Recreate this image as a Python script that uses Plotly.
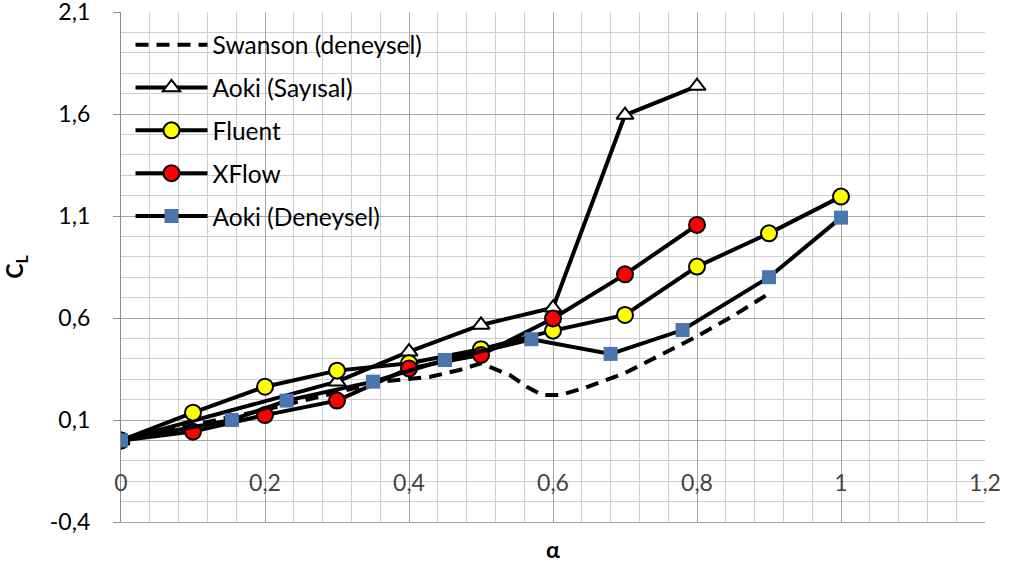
import plotly.graph_objects as go

# ---- data ----
swanson_x = [0, 0.1, 0.2, 0.3, 0.36, 0.43, 0.47, 0.5, 0.54, 0.565, 0.585, 0.61, 0.65, 0.7, 0.75, 0.8, 0.85, 0.9]
swanson_y = [0, 0.075, 0.15, 0.235, 0.288, 0.312, 0.345, 0.378, 0.32, 0.26, 0.222, 0.222, 0.265, 0.33, 0.42, 0.51, 0.61, 0.72]

aoki_say_x = [0, 0.3, 0.4, 0.5, 0.6, 0.7, 0.8]
aoki_say_y = [0, 0.288, 0.435, 0.566, 0.65, 1.595, 1.737]

fluent_x = [0, 0.1, 0.2, 0.3, 0.4, 0.5, 0.6, 0.7, 0.8, 0.9, 1.0]
fluent_y = [0, 0.136, 0.263, 0.342, 0.378, 0.447, 0.538, 0.615, 0.852, 1.015, 1.195]

xflow_x = [0, 0.1, 0.2, 0.3, 0.4, 0.5, 0.6, 0.7, 0.8]
xflow_y = [0, 0.043, 0.124, 0.195, 0.353, 0.419, 0.598, 0.814, 1.056]

aoki_den_x = [0, 0.154, 0.23, 0.35, 0.45, 0.57, 0.68, 0.78, 0.9, 1.0]
aoki_den_y = [0, 0.1, 0.195, 0.288, 0.394, 0.496, 0.424, 0.541, 0.8, 1.092]

x_tickvals = [0, 0.2, 0.4, 0.6, 0.8, 1.0, 1.2]
x_ticktext = ["0", "0,2", "0,4", "0,6", "0,8", "1", "1,2"]
y_tickvals = [-0.4, 0.1, 0.6, 1.1, 1.6, 2.1]
y_ticktext = ["-0,4", "0,1", "0,6", "1,1", "1,6", "2,1"]

FONT = "Lato"
FS = 23
LFS = 24.5
LINE_W = 4

fig = go.Figure()

fig.add_trace(go.Scatter(
    x=swanson_x, y=swanson_y, mode="lines", name="Swanson (deneysel)",
    line=dict(color="black", width=LINE_W, dash="13px,8px"), legendgroup="a"))

fig.add_trace(go.Scatter(
    x=aoki_say_x, y=aoki_say_y, mode="lines+markers", name="Aoki (Sayısal)",
    line=dict(color="black", width=LINE_W),
    marker=dict(symbol="triangle-up", size=15, color="white", line=dict(color="black", width=2)),
    legendgroup="b"))

fig.add_trace(go.Scatter(
    x=fluent_x, y=fluent_y, mode="lines+markers", name="Fluent",
    line=dict(color="black", width=LINE_W),
    marker=dict(symbol="circle", size=16, color="#FFFF00", line=dict(color="black", width=2)),
    legendgroup="c"))

fig.add_trace(go.Scatter(
    x=xflow_x, y=xflow_y, mode="lines+markers", name="XFlow",
    line=dict(color="black", width=LINE_W),
    marker=dict(symbol="circle", size=16, color="#FF0000", line=dict(color="black", width=2)),
    legendgroup="d"))

fig.add_trace(go.Scatter(
    x=aoki_den_x, y=aoki_den_y, mode="lines+markers", name="Aoki (Deneysel)",
    line=dict(color="black", width=LINE_W),
    marker=dict(symbol="square", size=14, color="#4A76AE", line=dict(width=0)),
    legendgroup="e"))

fig.update_layout(
    width=1014, height=563,
    margin=dict(l=121, r=29, t=12, b=41),
    paper_bgcolor="white", plot_bgcolor="white",
    font=dict(family=FONT, size=FS, color="black"),
    showlegend=True,
    legend=dict(
        x=0.011, y=0.98, xanchor="left", yanchor="top",
        bgcolor="rgba(255,255,255,0)", borderwidth=0,
        font=dict(family=FONT, size=LFS, color="black"),
        itemwidth=72, tracegroupgap=8, traceorder="grouped",
    ),
    xaxis=dict(
        range=[0, 1.2], tickmode="array", tickvals=x_tickvals, ticktext=x_ticktext,
        showgrid=True, gridcolor="#A6A6A6", gridwidth=1.3,
        minor=dict(tick0=0, dtick=0.04, showgrid=True, gridcolor="#CFCFCF", gridwidth=1.3),
        showline=True, linecolor="#A6A6A6", linewidth=1.3, mirror=False,
        zeroline=False, ticks="", automargin=False,
        ticklabelposition="inside", ticklabelstandoff=28, ticklabeloverflow="allow",
        tickfont=dict(family=FONT, size=FS),
        title=dict(text="<b>α</b>", font=dict(family=FONT, size=FS), standoff=47),
    ),
    yaxis=dict(
        range=[-0.4, 2.1], tickmode="array", tickvals=y_tickvals, ticktext=y_ticktext,
        showgrid=True, gridcolor="#A6A6A6", gridwidth=1.3,
        minor=dict(tick0=-0.4, dtick=0.1, showgrid=True, gridcolor="#CFCFCF", gridwidth=1.3),
        showline=True, linecolor="#8C8C8C", linewidth=1.3, automargin=False,
        zeroline=True, zerolinecolor="#A6A6A6", zerolinewidth=1.3,
        ticks="outside", ticklen=7, tickcolor="#8C8C8C", tickwidth=1.3,
        ticklabelstandoff=18, ticklabeloverflow="allow",
        tickfont=dict(family=FONT, size=FS),
        title=dict(text="<b>C<sub>L</sub></b>", font=dict(family=FONT, size=FS), standoff=28),
    ),
)

fig.write_html("out.html", config={"displayModeBar": False},
               post_script="document.body.style.margin='0';")
